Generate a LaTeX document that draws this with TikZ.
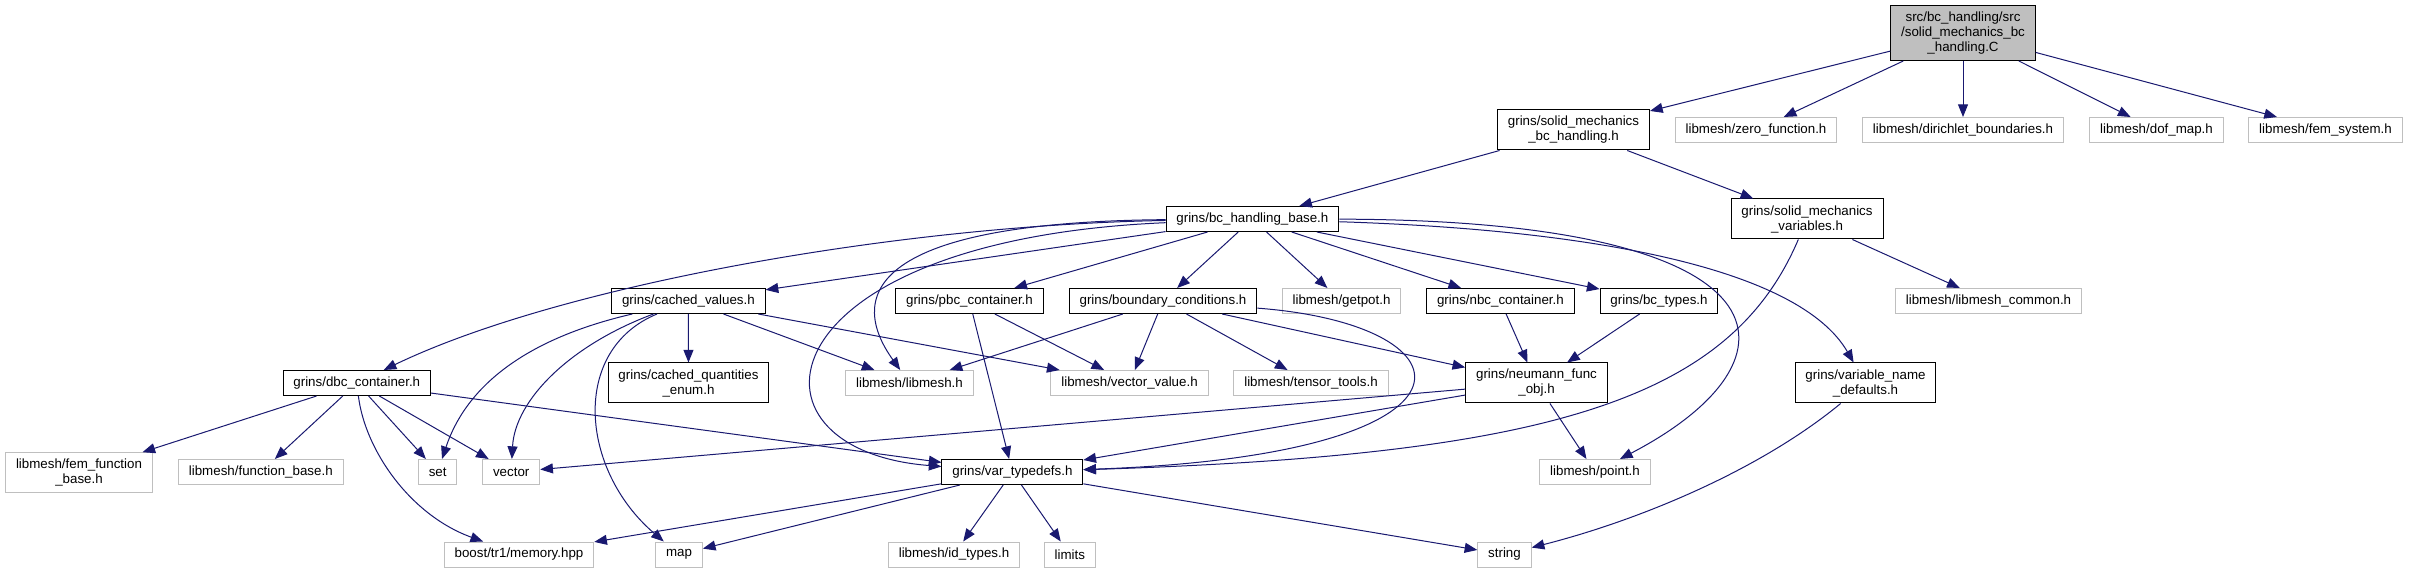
\documentclass[tikz,border=0pt]{standalone}
\usepackage{fontspec}
\newfontfamily\doxyfont{Liberation Sans}
\usetikzlibrary{arrows.meta}

\definecolor{edgeblue}{HTML}{191970}
\definecolor{extgray}{HTML}{BFBFBF}

\begin{document}
\begin{tikzpicture}[
  x=0.75pt,y=-0.75pt,
  font=\doxyfont\fontsize{10}{11.25}\selectfont,
  >={Triangle[length=9.5pt,width=7.5pt]},
  hdr/.style={draw=black,fill=white,align=center,minimum height=18.75pt,inner xsep=7.8pt,inner ysep=2pt,line width=0.75pt},
  ext/.style={hdr,draw=extgray},
  srcfile/.style={hdr,fill=extgray,minimum height=41.25pt},
  tall/.style={minimum height=30pt},
  dep/.style={->,draw=edgeblue,line width=0.75pt},
]
\path[use as bounding box,fill=white] (0,0) rectangle (2409,573);

% source file and its direct includes
\node[srcfile] (main) at (1963,33) {src/bc\_handling/src\\/solid\_mechanics\_bc\\\_handling.C};
\node[hdr,tall] (smbc) at (1573.5,130) {grins/solid\_mechanics\\\_bc\_handling.h};
\node[ext] (zerofn) at (1756,130) {libmesh/zero\_function.h};
\node[ext] (dirichlet) at (1963,130) {libmesh/dirichlet\_boundaries.h};
\node[ext] (dofmap) at (2156.5,130) {libmesh/dof\_map.h};
\node[ext] (femsys) at (2325.5,130) {libmesh/fem\_system.h};

\node[hdr] (bcbase) at (1252.4,219) {grins/bc\_handling\_base.h};
\node[hdr,tall] (smvars) at (1807,219) {grins/solid\_mechanics\\\_variables.h};

\node[hdr] (cached) at (688.4,301) {grins/cached\_values.h};
\node[hdr] (pbc) at (969.5,301) {grins/pbc\_container.h};
\node[hdr] (bcond) at (1163,301) {grins/boundary\_conditions.h};
\node[ext] (getpot) at (1341.5,301) {libmesh/getpot.h};
\node[hdr] (nbc) at (1500.4,301) {grins/nbc\_container.h};
\node[hdr] (bctypes) at (1659,301) {grins/bc\_types.h};
\node[ext] (lmcommon) at (1988.5,301) {libmesh/libmesh\_common.h};

\node[hdr] (dbc) at (356.8,383) {grins/dbc\_container.h};
\node[hdr,tall] (cqenum) at (688.5,383) {grins/cached\_quantities\\\_enum.h};
\node[ext] (libmesh) at (909.5,383) {libmesh/libmesh.h};
\node[ext] (vecval) at (1129.5,383) {libmesh/vector\_value.h};
\node[ext] (tensor) at (1311,383) {libmesh/tensor\_tools.h};
\node[hdr,tall] (neumann) at (1536.5,383) {grins/neumann\_func\\\_obj.h};
\node[hdr,tall] (varnames) at (1865.5,383) {grins/variable\_name\\\_defaults.h};

\node[ext,tall] (femfnbase) at (79,472.7) {libmesh/fem\_function\\\_base.h};
\node[ext] (fnbase) at (260.8,472) {libmesh/function\_base.h};
\node[ext] (stdset) at (437.7,472) {set};
\node[ext] (stdvector) at (511.2,472) {vector};
\node[hdr] (vartypes) at (1012.4,472) {grins/var\_typedefs.h};
\node[ext] (point) at (1595,472) {libmesh/point.h};

\node[ext] (memory) at (519,554.5) {boost/tr1/memory.hpp};
\node[ext] (stdmap) at (679,554.5) {map};
\node[ext] (idtypes) at (954,554.5) {libmesh/id\_types.h};
\node[ext] (limits) at (1069.8,554.5) {limits};
\node[ext] (stdstring) at (1504.5,554.5) {string};

% includes of the source file
\draw[dep] (main) -- (smbc);
\draw[dep] (main) -- (zerofn);
\draw[dep] (main) -- (dirichlet);
\draw[dep] (main) -- (dofmap);
\draw[dep] (main) -- (femsys);
\draw[dep] (smbc) -- (bcbase);
\draw[dep] (smbc) -- (smvars);
\draw[dep] (smvars) -- (lmcommon);
\draw[dep] (smvars) .. controls (1730,400) and (1550,455) .. (vartypes);

% bc_handling_base.h
\draw[dep] (bcbase) .. controls (900,225) and (560,285) .. (dbc);
\draw[dep] (bcbase) -- (cached);
\draw[dep] (bcbase) .. controls (860,222) and (850,300) .. (libmesh);
\draw[dep] (bcbase) .. controls (760,240) and (730,450) .. (vartypes);
\draw[dep] (bcbase) -- (pbc);
\draw[dep] (bcbase) -- (bcond);
\draw[dep] (bcbase) -- (getpot);
\draw[dep] (bcbase) -- (nbc);
\draw[dep] (bcbase) -- (bctypes);
\draw[dep] (bcbase) .. controls (1800,220) and (1810,360) .. (point);
\draw[dep] (bcbase) .. controls (1600,230) and (1800,270) .. (varnames);

% containers and conditions
\draw[dep] (cached) .. controls (520,340) and (465,390) .. (stdset);
\draw[dep] (cached) .. controls (570,345) and (515,400) .. (stdvector);
\draw[dep] (cached) .. controls (570,350) and (580,470) .. (stdmap);
\draw[dep] (cached) -- (cqenum);
\draw[dep] (cached) -- (libmesh);
\draw[dep] (cached) -- (vecval);
\draw[dep] (pbc) -- (vartypes);
\draw[dep] (pbc) -- (vecval);
\draw[dep] (bcond) -- (libmesh);
\draw[dep] (bcond) -- (vecval);
\draw[dep] (bcond) -- (tensor);
\draw[dep] (bcond) -- (neumann);
\draw[dep] (bcond) .. controls (1480,325) and (1500,455) .. (vartypes);
\draw[dep] (nbc) -- (neumann);
\draw[dep] (bctypes) -- (neumann);
\draw[dep] (neumann) -- (stdvector);
\draw[dep] (neumann) -- (vartypes);
\draw[dep] (neumann) -- (point);
\draw[dep] (varnames) .. controls (1760,470) and (1640,520) .. (stdstring);

\draw[dep] (dbc) -- (femfnbase);
\draw[dep] (dbc) -- (fnbase);
\draw[dep] (dbc) -- (stdset);
\draw[dep] (dbc) -- (stdvector);
\draw[dep] (dbc) .. controls (365,450) and (410,515) .. (memory);
\draw[dep] (dbc) -- (vartypes);

% var_typedefs.h
\draw[dep] (vartypes) -- (memory);
\draw[dep] (vartypes) -- (stdmap);
\draw[dep] (vartypes) -- (idtypes);
\draw[dep] (vartypes) -- (limits);
\draw[dep] (vartypes) -- (stdstring);

\end{tikzpicture}
\end{document}
